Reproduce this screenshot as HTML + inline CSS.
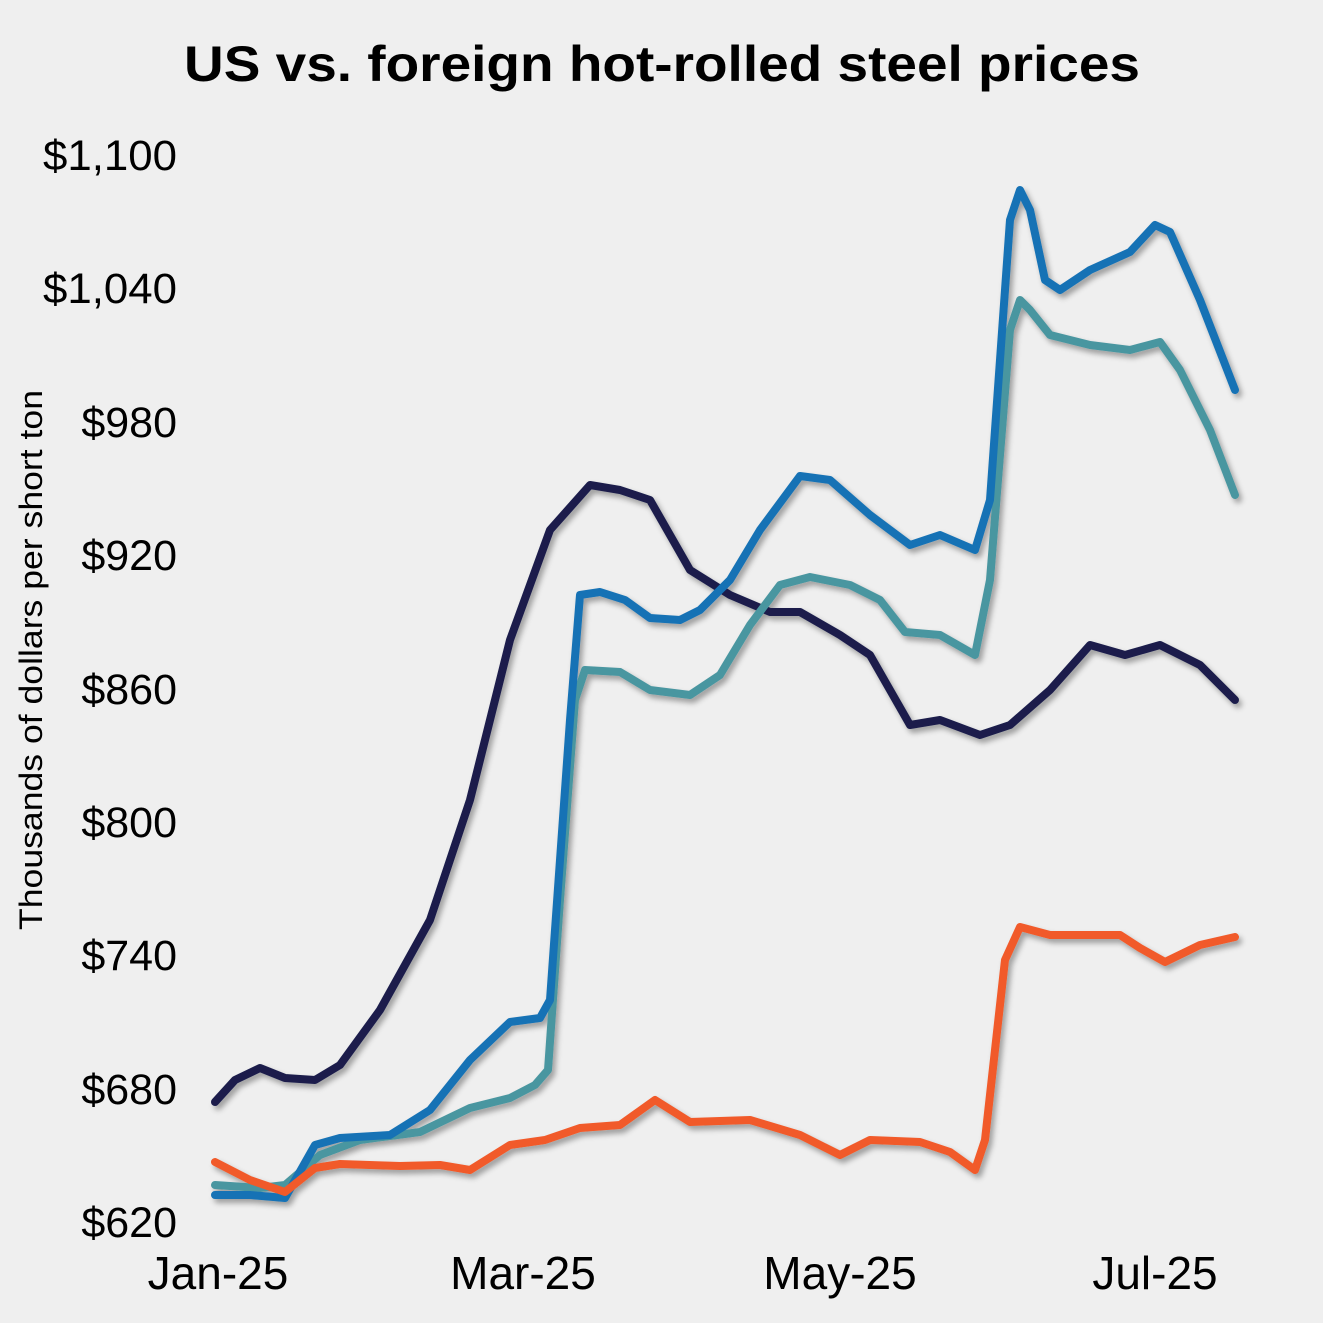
<!DOCTYPE html>
<html><head><meta charset="utf-8"><style>
html,body{margin:0;padding:0;background:#efefef;}
svg{display:block;}
text{font-family:"Liberation Sans",sans-serif;fill:#000;}
</style></head><body>
<svg width="1323" height="1323" viewBox="0 0 1323 1323" xmlns="http://www.w3.org/2000/svg">
<defs>
<filter id="sh" x="-5%" y="-5%" width="110%" height="110%">
<feGaussianBlur in="SourceAlpha" stdDeviation="3"/>
<feOffset dx="3" dy="4" result="b"/>
<feComponentTransfer><feFuncA type="linear" slope="0.35"/></feComponentTransfer>
<feMerge><feMergeNode/><feMergeNode in="SourceGraphic"/></feMerge>
</filter>
</defs>
<rect width="1323" height="1323" fill="#efefef"/>
<text x="184" y="81" font-size="50" font-weight="bold" textLength="956" lengthAdjust="spacingAndGlyphs">US vs. foreign hot-rolled steel prices</text>
<g font-size="43" text-anchor="end">
<text x="177" y="170" textLength="134" lengthAdjust="spacingAndGlyphs">$1,100</text>
<text x="177" y="303" textLength="134" lengthAdjust="spacingAndGlyphs">$1,040</text>
<text x="177" y="437">$980</text>
<text x="177" y="570">$920</text>
<text x="177" y="704">$860</text>
<text x="177" y="837">$800</text>
<text x="177" y="970">$740</text>
<text x="177" y="1104">$680</text>
<text x="177" y="1237">$620</text>
</g>
<g font-size="46" text-anchor="middle">
<text x="218" y="1289">Jan-25</text>
<text x="523" y="1289">Mar-25</text>
<text x="840" y="1289">May-25</text>
<text x="1155" y="1289">Jul-25</text>
</g>
<text transform="translate(42,660) rotate(-90)" font-size="32" text-anchor="middle" textLength="540" lengthAdjust="spacingAndGlyphs">Thousands of dollars per short ton</text>
<g fill="none" stroke-width="8" stroke-linejoin="round" stroke-linecap="round" filter="url(#sh)">
<polyline stroke="#1a1f4b" points="215,1102 235,1080 260,1068 285,1078 315,1080 340,1065 380,1010 430,920 470,800 510,640 550,530 590,485 620,490 650,500 690,570 730,595 770,612 800,612 840,635 870,655 910,725 940,720 980,735 1010,725 1050,690 1090,645 1125,655 1160,645 1200,665 1235,700"/>
<polyline stroke="#4a96a0" points="215,1185 260,1188 285,1185 320,1155 360,1140 420,1132 470,1108 510,1098 535,1085 548,1070 560,900 575,700 585,670 620,672 650,690 690,695 720,675 750,625 780,585 810,577 850,585 880,600 905,632 940,635 975,655 990,580 1010,330 1020,300 1030,310 1050,335 1090,345 1130,350 1160,342 1180,370 1210,430 1235,495"/>
<polyline stroke="#1672b5" points="215,1195 250,1195 285,1198 315,1145 340,1138 390,1135 430,1110 470,1060 510,1022 540,1018 550,1000 570,720 580,595 600,592 625,600 650,618 680,620 700,610 730,580 760,530 800,476 830,480 870,515 910,545 940,535 975,550 990,500 1010,220 1020,190 1030,210 1045,280 1060,290 1090,270 1130,252 1155,225 1170,232 1200,300 1235,390"/>
<polyline stroke="#f15a29" points="215,1162 250,1180 285,1192 315,1168 340,1164 400,1166 440,1165 470,1170 510,1145 545,1140 580,1128 620,1125 655,1100 690,1122 750,1120 800,1135 840,1155 870,1140 920,1142 950,1152 975,1170 985,1140 1005,960 1020,927 1050,935 1090,935 1120,935 1140,948 1165,962 1200,945 1235,937"/>
</g>
</svg>
</body></html>
